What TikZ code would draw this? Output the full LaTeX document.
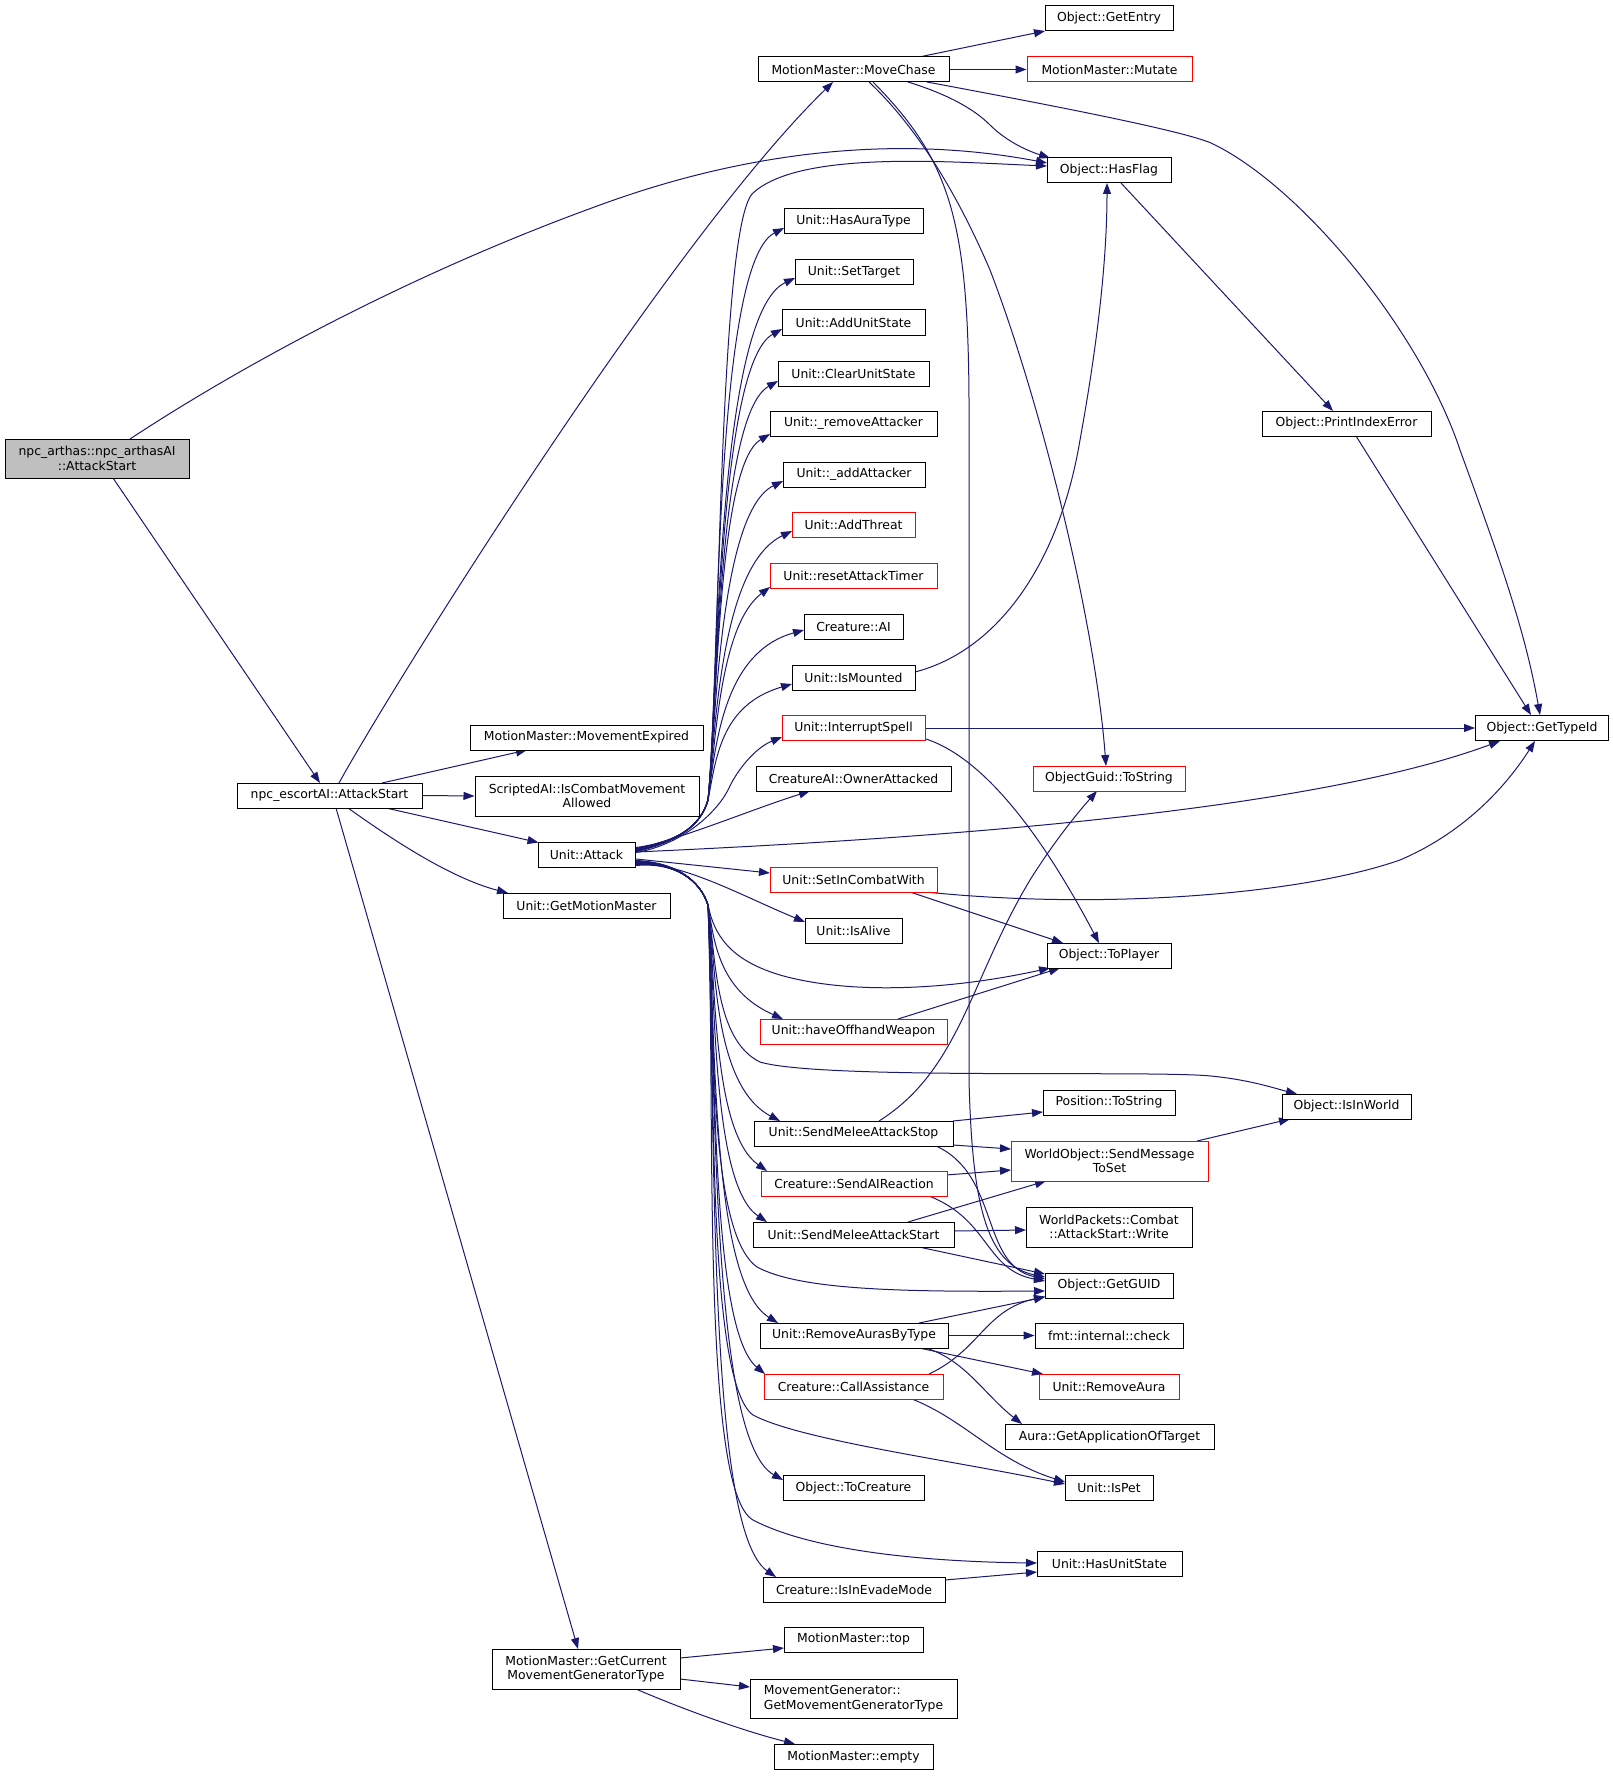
\documentclass[tikz,border=0pt]{standalone}
\usepackage{fontspec}
\setmainfont{DejaVu Sans}
\usetikzlibrary{arrows.meta,calc}
\definecolor{edgeblue}{HTML}{191970}
\definecolor{rootgray}{HTML}{BFBFBF}
\pgfdeclarelayer{bg}
\pgfsetlayers{bg,main}
\begin{document}
\begin{tikzpicture}[x=1pt,y=-1pt,
  fn/.style={draw=black, line width=1pt, fill=white, inner sep=0pt, minimum height=25pt,
             font=\fontsize{12.4}{14.7}\selectfont, align=center},
  fnred/.style={fn, draw=red},
  root/.style={fn, fill=rootgray},
  call/.style={draw=edgeblue, line width=1pt, -{Triangle[length=11pt,width=8pt]}}
]
\useasboundingbox (0,0) rectangle (1612,1776);

% ---------- nodes ----------
\node[root, minimum width=184pt, minimum height=39pt] (arthas) at (97,458.5) {npc\_arthas::npc\_arthasAI\\::AttackStart};
\node[fn, minimum width=185pt] (escort) at (329.5,795.5) {npc\_escortAI::AttackStart};
\node[fn, minimum width=191pt] (movechase) at (853.5,69.5) {MotionMaster::MoveChase};
\node[fn, minimum width=128pt] (getentry) at (1109,18.5) {Object::GetEntry};
\node[fnred, minimum width=165pt] (mutate) at (1109.5,69.5) {MotionMaster::Mutate};
\node[fn, minimum width=124pt] (hasflag) at (1109,170.5) {Object::HasFlag};
\node[fn, minimum width=139pt] (hasauratype) at (853.5,221.5) {Unit::HasAuraType};
\node[fn, minimum width=118pt] (settarget) at (854,272) {Unit::SetTarget};
\node[fn, minimum width=143pt] (addunitstate) at (853.5,322.5) {Unit::AddUnitState};
\node[fn, minimum width=151pt] (clearunitstate) at (853.5,373.5) {Unit::ClearUnitState};
\node[fn, minimum width=167pt] (removeattacker) at (853.5,423.5) {Unit::\_removeAttacker};
\node[fn, minimum width=142pt] (addattacker) at (854,474.5) {Unit::\_addAttacker};
\node[fnred, minimum width=123pt] (addthreat) at (853.5,525) {Unit::AddThreat};
\node[fnred, minimum width=167pt] (resettimer) at (853.5,576) {Unit::resetAttackTimer};
\node[fn, minimum width=99pt] (creatureai) at (853.5,626.5) {Creature::AI};
\node[fn, minimum width=123pt] (ismounted) at (853.5,677.5) {Unit::IsMounted};
\node[fnred, minimum width=143pt] (interrupt) at (853.5,728) {Unit::InterruptSpell};
\node[fn, minimum width=195pt] (ownerattacked) at (853.5,778.5) {CreatureAI::OwnerAttacked};
\node[fn, minimum width=233pt] (movexpired) at (586.5,737.5) {MotionMaster::MovementExpired};
\node[fn, minimum width=224pt, minimum height=40pt] (iscombat) at (587,796) {ScriptedAI::IsCombatMovement\\Allowed};
\node[fn, minimum width=97pt] (attack) at (586.5,854.5) {Unit::Attack};
\node[fnred, minimum width=167pt] (setincombat) at (853.5,879.5) {Unit::SetInCombatWith};
\node[fn, minimum width=167pt] (getmotionmaster) at (586.5,905.5) {Unit::GetMotionMaster};
\node[fn, minimum width=97pt] (isalive) at (853.5,930.5) {Unit::IsAlive};
\node[fn, minimum width=124pt] (toplayer) at (1109,955.5) {Object::ToPlayer};
\node[fnred, minimum width=187pt] (haveoffhand) at (853.5,1031.5) {Unit::haveOffhandWeapon};
\node[fn, minimum width=129pt] (isinworld) at (1346.5,1106.5) {Object::IsInWorld};
\node[fn, minimum width=132pt] (postostring) at (1109,1102.5) {Position::ToString};
\node[fn, minimum width=199pt] (meleestop) at (853.5,1133.5) {Unit::SendMeleeAttackStop};
\node[fnred, minimum width=197pt, minimum height=40pt] (sendmsg) at (1109.5,1161) {WorldObject::SendMessage\\ToSet};
\node[fnred, minimum width=186pt] (aireaction) at (854,1183.5) {Creature::SendAIReaction};
\node[fn, minimum width=201pt] (meleestart) at (853.5,1234.5) {Unit::SendMeleeAttackStart};
\node[fn, minimum width=166pt, minimum height=40pt] (attackwrite) at (1109,1227) {WorldPackets::Combat\\::AttackStart::Write};
\node[fn, minimum width=128pt] (getguid) at (1109,1285.5) {Object::GetGUID};
\node[fn, minimum width=188pt] (removeauras) at (854,1335.5) {Unit::RemoveAurasByType};
\node[fn, minimum width=148pt] (fmtcheck) at (1109,1335.5) {fmt::internal::check};
\node[fnred, minimum width=179pt] (callassist) at (853.5,1386.5) {Creature::CallAssistance};
\node[fnred, minimum width=140pt] (removeaura) at (1109,1386.5) {Unit::RemoveAura};
\node[fn, minimum width=209pt] (getapp) at (1109.5,1437) {Aura::GetApplicationOfTarget};
\node[fn, minimum width=88pt] (ispet) at (1109,1488) {Unit::IsPet};
\node[fn, minimum width=141pt] (tocreature) at (853.5,1488) {Object::ToCreature};
\node[fn, minimum width=145pt] (hasunitstate) at (1109.5,1564) {Unit::HasUnitState};
\node[fn, minimum width=182pt] (evade) at (854,1589.5) {Creature::IsInEvadeMode};
\node[fn, minimum width=139pt] (mmtop) at (853.5,1639.5) {MotionMaster::top};
\node[fn, minimum width=188pt, minimum height=40pt] (getcurrent) at (586,1669) {MotionMaster::GetCurrent\\MovementGeneratorType};
\node[fn, minimum width=207pt, minimum height=39pt, align=left] (getmovgen) at (853.5,1698.5) {MovementGenerator::\\GetMovementGeneratorType};
\node[fn, minimum width=159pt] (mmempty) at (853.5,1757) {MotionMaster::empty};
\node[fn, minimum width=169pt] (printidx) at (1346.5,423.5) {Object::PrintIndexError};
\node[fn, minimum width=133pt] (gettypeid) at (1542,728) {Object::GetTypeId};
\node[fnred, minimum width=152pt] (guidtostring) at (1109,778.5) {ObjectGuid::ToString};

% ---------- edges ----------
\begin{pgfonlayer}{bg}
% root
\draw[call] ($(arthas)+(16,19.5)$) -- ($(escort)+(-9.5,-12.5)$);
\draw[call] ($(arthas)+(33,-19.5)$) .. controls (250,360) and (420,270) .. (600,205)
  .. controls (750,150) and (900,135) .. ($(hasflag)+(-62,-7.5)$);
% escort
\draw[call] ($(escort)+(9.5,-12.5)$) .. controls (390,690) and (670,240) .. ($(movechase)+(-20.5,12.5)$);
\draw[call] ($(escort)+(52.5,-12.5)$) -- ($(movexpired)+(-59.5,12.5)$);
\draw[call] (escort.east) -- (iscombat.west);
\draw[call] ($(escort)+(56.5,12.5)$) -- ($(attack)+(-48,-12)$);
\draw[call] ($(escort)+(18.5,12.5)$) .. controls (390,838) and (450,878) .. ($(getmotionmaster)+(-78.5,-12.5)$);
\draw[call] ($(escort)+(6.5,12.5)$) -- ($(getcurrent)+(-8,-20)$);
% movechase
\draw[call] ($(movechase)+(65.5,-12.5)$) -- ($(getentry)+(-64,12.5)$);
\draw[call] (movechase.east) -- (mutate.west);
\draw[call] ($(movechase)+(54.5,12.5)$) .. controls (950,95) and (975,110) .. (990,125)
  .. controls (1005,140) and (1025,150) .. ($(hasflag)+(-59,-12.5)$);
\draw[call] ($(movechase)+(73.5,12.5)$) .. controls (1050,105) and (1180,130) .. (1211,143)
  .. controls (1300,185) and (1420,330) .. (1460,450)
  .. controls (1500,560) and (1525,630) .. ($(gettypeid)+(-2,-13)$);
\draw[call] ($(movechase)+(15.5,12.5)$) .. controls (920,130) and (960,200) .. (990,270)
  .. controls (1040,400) and (1095,620) .. ($(guidtostring)+(-3,-12.5)$);
\draw[call] ($(movechase)+(19.5,12.5)$) .. controls (950,160) and (968,220) .. (969,400) -- (969,1080)
  .. controls (972,1200) and (985,1265) .. ($(getguid)+(-64,-8.5)$);
% hasflag / printidx
\draw[call] ($(hasflag)+(12,12.5)$) -- ($(printidx)+(-13.5,-12.5)$);
\draw[call] ($(printidx)+(9.5,12.5)$) -- ($(gettypeid)+(-11,-13)$);
% attack upward fan
\draw[call] ($(attack)+(49.5,-7)$) .. controls (675,842) and (700,828) .. (708,800)
  .. controls (720,700) and (718,225) .. (753,193)
  .. controls (800,150) and (950,162) .. ($(hasflag)+(-62,-4.5)$);
\draw[call] ($(attack)+(49.5,-6)$) .. controls (675,842) and (700,828) .. (708,800)
  .. controls (720,700) and (712,265) .. ($(hasauratype)+(-69.5,6.5)$);
\draw[call] ($(attack)+(49.5,-6)$) .. controls (675,842) and (700,828) .. (708,800)
  .. controls (718,700) and (716,315) .. ($(settarget)+(-59,6)$);
\draw[call] ($(attack)+(49.5,-5)$) .. controls (675,842) and (700,828) .. (708,800)
  .. controls (718,700) and (718,365) .. ($(addunitstate)+(-71.5,6.5)$);
\draw[call] ($(attack)+(49.5,-5)$) .. controls (675,842) and (700,828) .. (708,800)
  .. controls (718,700) and (718,415) .. ($(clearunitstate)+(-75.5,7.5)$);
\draw[call] ($(attack)+(49.5,-4)$) .. controls (675,842) and (700,828) .. (708,800)
  .. controls (718,700) and (718,465) .. ($(removeattacker)+(-83.5,10.5)$);
\draw[call] ($(attack)+(49.5,-4)$) .. controls (675,842) and (700,828) .. (708,800)
  .. controls (716,720) and (720,512) .. ($(addattacker)+(-71,6.5)$);
\draw[call] ($(attack)+(49.5,-4)$) .. controls (675,842) and (700,828) .. (708,800)
  .. controls (716,720) and (722,565) .. ($(addthreat)+(-61.5,6)$);
\draw[call] ($(attack)+(49.5,-3)$) .. controls (675,842) and (700,828) .. (708,800)
  .. controls (716,740) and (720,625) .. ($(resettimer)+(-83.5,11)$);
\draw[call] ($(attack)+(49.5,-3)$) .. controls (675,842) and (700,828) .. (708,800)
  .. controls (716,740) and (725,652) .. ($(creatureai)+(-49.5,3.5)$);
\draw[call] ($(attack)+(49.5,-3)$) .. controls (675,842) and (700,828) .. (708,800)
  .. controls (716,760) and (720,705) .. ($(ismounted)+(-61.5,6.5)$);
\draw[call] ($(attack)+(49.5,-2)$) .. controls (680,845) and (715,815) .. (728,790)
  .. controls (737,770) and (755,748) .. ($(interrupt)+(-71.5,9)$);
\draw[call] ($(attack)+(49.5,-5)$) .. controls (700,832) and (750,810) .. ($(ownerattacked)+(-43.5,12.5)$);
\draw[call] ($(attack)+(49.5,-2.5)$) .. controls (900,840) and (1300,815) .. ($(gettypeid)+(-42,13)$);
% attack direct right
\draw[call] ($(attack)+(49.5,4.5)$) -- ($(setincombat)+(-83.5,-6.5)$);
\draw[call] ($(attack)+(49.5,7.5)$) .. controls (690,866) and (740,895) .. ($(isalive)+(-48.5,-8.5)$);
% attack downward fan
\draw[call] ($(attack)+(49.5,6)$) .. controls (675,862) and (700,880) .. (708,905)
  .. controls (714,935) and (730,960) .. (780,975)
  .. controls (850,995) and (950,990) .. ($(toplayer)+(-59,12.5)$);
\draw[call] ($(attack)+(49.5,7)$) .. controls (675,862) and (700,880) .. (708,905)
  .. controls (714,940) and (718,990) .. ($(haveoffhand)+(-70.5,-12.5)$);
\draw[call] ($(attack)+(49.5,7)$) .. controls (675,862) and (700,880) .. (708,905)
  .. controls (716,960) and (715,1040) .. (760,1062)
  .. controls (820,1080) and (1150,1070) .. (1211,1076)
  .. controls (1250,1080) and (1270,1087) .. ($(isinworld)+(-49.5,-12.5)$);
\draw[call] ($(attack)+(49.5,8)$) .. controls (675,862) and (700,880) .. (708,905)
  .. controls (716,960) and (712,1085) .. ($(meleestop)+(-73.5,-12.5)$);
\draw[call] ($(attack)+(49.5,8)$) .. controls (675,862) and (700,880) .. (708,905)
  .. controls (716,980) and (712,1132) .. ($(aireaction)+(-87,-12.5)$);
\draw[call] ($(attack)+(49.5,8)$) .. controls (675,862) and (700,880) .. (708,905)
  .. controls (716,1000) and (712,1185) .. ($(meleestart)+(-86.5,-12.5)$);
\draw[call] ($(attack)+(49.5,9)$) .. controls (675,862) and (700,880) .. (708,905)
  .. controls (716,1000) and (705,1230) .. (757,1267)
  .. controls (800,1290) and (900,1292) .. ($(getguid)+(-64,5.5)$);
\draw[call] ($(attack)+(49.5,9)$) .. controls (675,862) and (700,880) .. (708,905)
  .. controls (716,1050) and (712,1282) .. ($(removeauras)+(-76,-12.5)$);
\draw[call] ($(attack)+(49.5,9)$) .. controls (675,862) and (700,880) .. (708,905)
  .. controls (716,1080) and (712,1330) .. ($(callassist)+(-88.5,-12.5)$);
\draw[call] ($(attack)+(49.5,10)$) .. controls (675,862) and (700,880) .. (708,905)
  .. controls (716,1050) and (705,1380) .. (753,1415)
  .. controls (800,1440) and (950,1460) .. ($(ispet)+(-44,-4)$);
\draw[call] ($(attack)+(49.5,10)$) .. controls (675,862) and (700,880) .. (708,905)
  .. controls (716,1100) and (712,1440) .. ($(tocreature)+(-70.5,-8)$);
\draw[call] ($(attack)+(49.5,10)$) .. controls (675,862) and (700,880) .. (708,905)
  .. controls (716,1100) and (700,1490) .. (753,1520)
  .. controls (820,1555) and (950,1562) .. ($(hasunitstate)+(-72.5,-1)$);
\draw[call] ($(attack)+(49.5,11)$) .. controls (675,862) and (700,880) .. (708,905)
  .. controls (716,1150) and (708,1530) .. ($(evade)+(-78,-12.5)$);
% second level
\draw[call] ($(ismounted)+(61.5,-5.5)$) .. controls (1000,650) and (1060,560) .. (1080,440)
  .. controls (1100,330) and (1107,250) .. ($(hasflag)+(-2,12.5)$);
\draw[call] (interrupt.east) -- (gettypeid.west);
\draw[call] ($(interrupt)+(72.5,11)$) .. controls (990,760) and (1050,850) .. ($(toplayer)+(-10,-12.5)$);
\draw[call] ($(setincombat)+(56.5,12.5)$) -- ($(toplayer)+(-46,-12.5)$);
\draw[call] ($(setincombat)+(72.5,12.5)$) .. controls (1100,910) and (1300,895) .. (1400,860)
  .. controls (1470,830) and (1510,780) .. ($(gettypeid)+(-7,13)$);
\draw[call] ($(haveoffhand)+(44.5,-12.5)$) -- ($(toplayer)+(-49,12.5)$);
\draw[call] ($(meleestop)+(25.5,-12.5)$) .. controls (960,1070) and (970,980) .. (1030,880)
  .. controls (1055,840) and (1080,810) .. ($(guidtostring)+(-12,12.5)$);
\draw[call] ($(meleestop)+(99.5,-12.5)$) -- ($(postostring)+(-66,9.5)$);
\draw[call] ($(meleestop)+(99.5,11.5)$) -- ($(sendmsg)+(-98.5,-12)$);
\draw[call] ($(meleestop)+(82.5,12.5)$) .. controls (1000,1175) and (980,1265) .. ($(getguid)+(-64,-6.5)$);
\draw[call] ($(aireaction)+(92,-8.5)$) -- ($(sendmsg)+(-98.5,9)$);
\draw[call] ($(aireaction)+(75,12.5)$) .. controls (990,1220) and (985,1270) .. ($(getguid)+(-64,-4.5)$);
\draw[call] ($(meleestart)+(54.5,-12.5)$) -- ($(sendmsg)+(-63.5,20)$);
\draw[call] ($(meleestart)+(100.5,-3.5)$) -- ($(attackwrite)+(-83,3)$);
\draw[call] ($(meleestart)+(65.5,12.5)$) -- ($(getguid)+(-64,-11.5)$);
\draw[call] ($(removeauras)+(65,-12.5)$) -- ($(getguid)+(-64,11.5)$);
\draw[call] (removeauras.east) -- (fmtcheck.west);
\draw[call] ($(removeauras)+(65,12.5)$) -- ($(removeaura)+(-66,-12.5)$);
\draw[call] ($(removeauras)+(72,12.5)$) .. controls (965,1360) and (985,1395) .. ($(getapp)+(-87.5,-13)$);
\draw[call] ($(callassist)+(75.5,-12.5)$) .. controls (980,1350) and (985,1310) .. ($(getguid)+(-64,11)$);
\draw[call] ($(callassist)+(58.5,12.5)$) .. controls (965,1420) and (995,1460) .. ($(ispet)+(-44,-6)$);
\draw[call] ($(evade)+(91,-9.5)$) -- ($(hasunitstate)+(-72.5,8)$);
\draw[call] ($(sendmsg)+(87.5,-20)$) -- ($(isinworld)+(-56.5,12.5)$);
\draw[call] ($(getcurrent)+(94,-11)$) -- ($(mmtop)+(-69.5,8.5)$);
\draw[call] ($(getcurrent)+(94,10)$) -- ($(getmovgen)+(-103.5,-11.5)$);
\draw[call] ($(getcurrent)+(50,20)$) .. controls (680,1708) and (740,1730) .. ($(mmempty)+(-58.5,-13)$);
\end{pgfonlayer}
\end{tikzpicture}
\end{document}
